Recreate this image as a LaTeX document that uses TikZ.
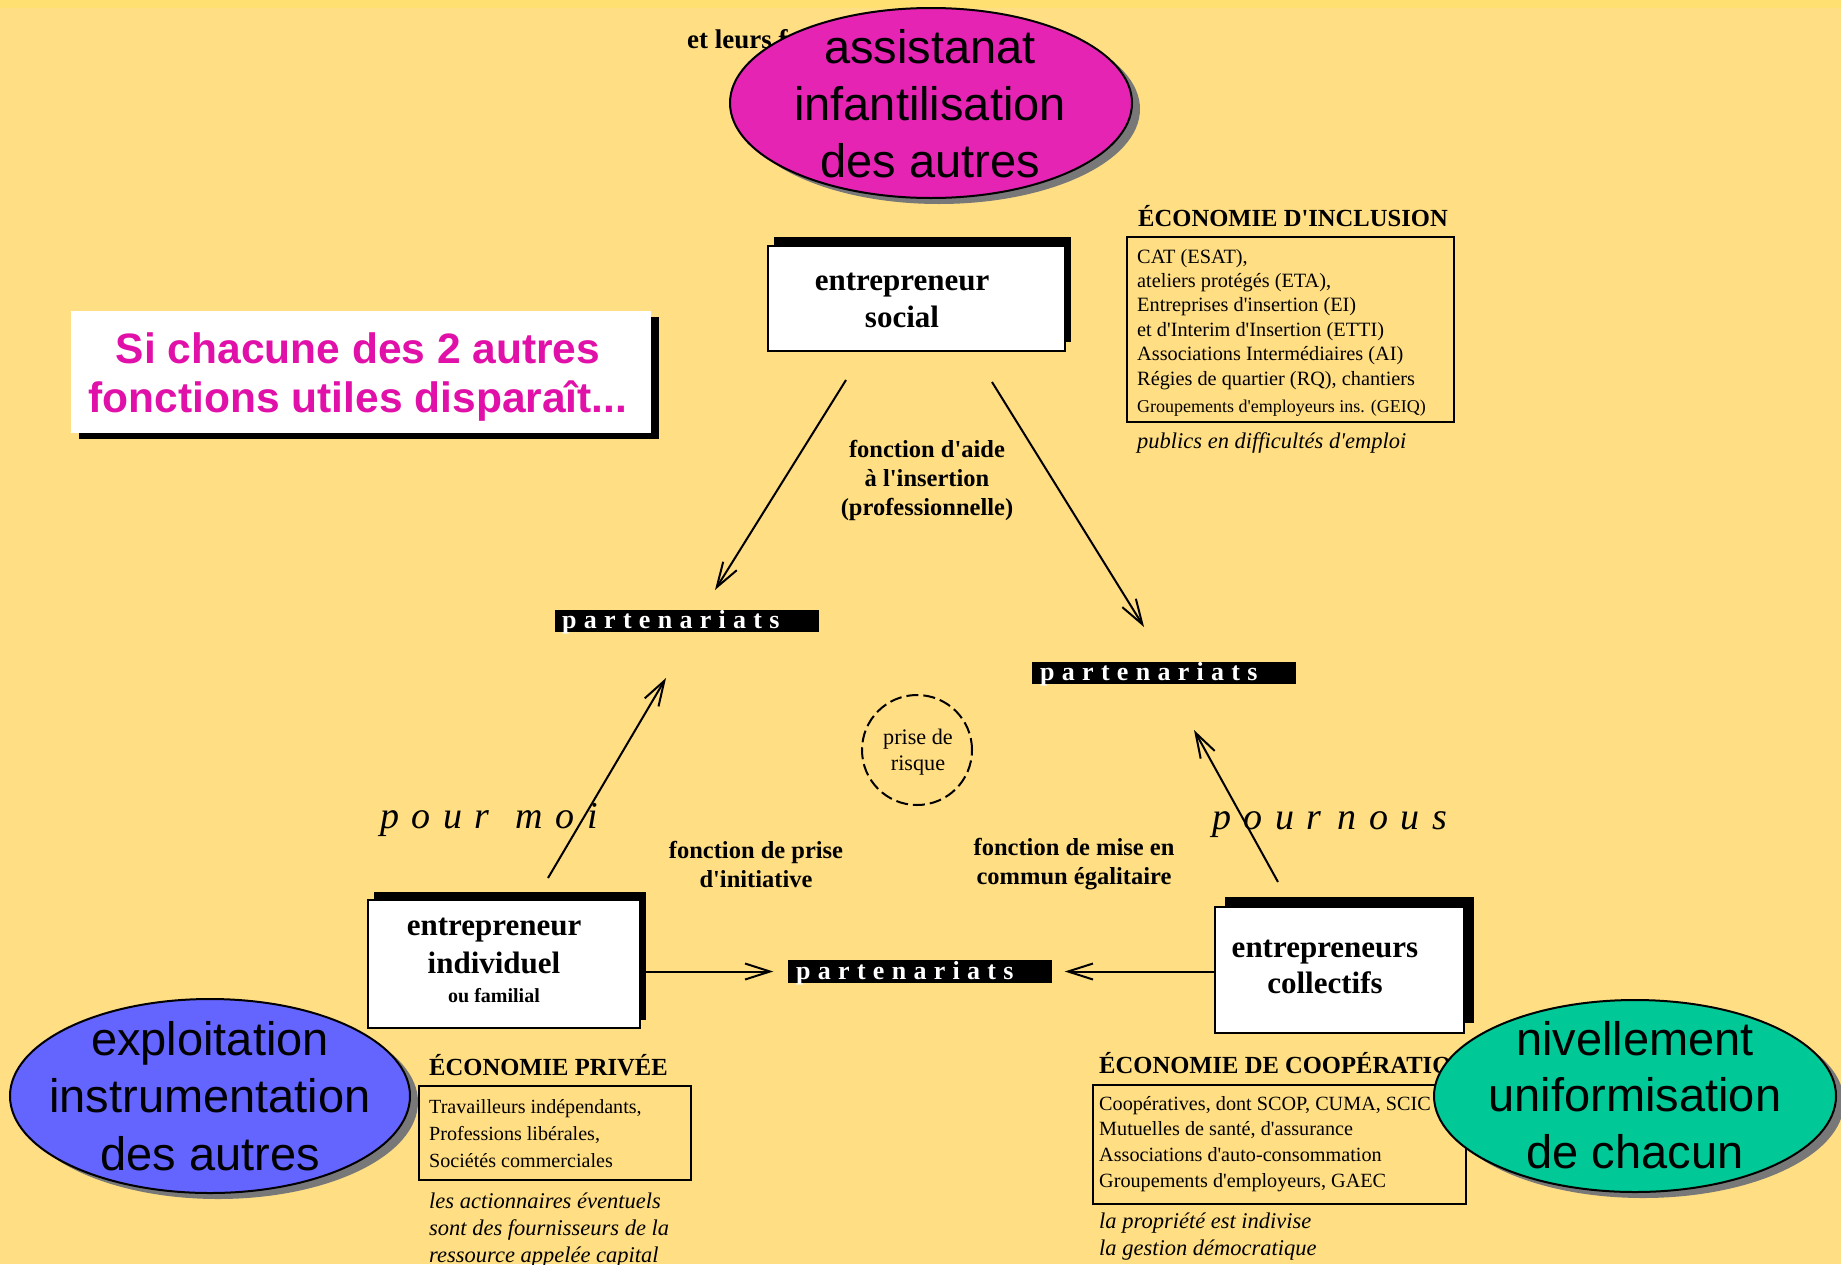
\documentclass[tikz,border=0pt]{standalone}
\usepackage{fontspec}
\setmainfont{Liberation Serif}
\setsansfont{Liberation Sans}
% plain families keep straight apostrophes (no TeX ligature mapping)
\newfontfamily\plainserif{Liberation Serif}
\newfontfamily\plainsans{Liberation Sans}
\newfontfamily\trackedserif[LetterSpace=33]{Liberation Serif}
\newfontfamily\partserif[LetterSpace=28]{Liberation Serif}
\usetikzlibrary{arrows.meta,shapes.geometric,shadows}

\definecolor{paper}{RGB}{255,222,132}
\definecolor{band}{RGB}{255,224,112}
\definecolor{pinkfill}{RGB}{230,36,180}
\definecolor{bluefill}{RGB}{100,100,255}
\definecolor{greenfill}{RGB}{0,200,150}
\definecolor{magtext}{RGB}{224,16,168}
\definecolor{shade}{RGB}{120,120,120}

\newcommand{\fsz}[2]{\fontsize{#1pt}{#2pt}\selectfont}
\newcommand{\stackc}[1]{\begin{tabular}[t]{@{}c@{}}#1\end{tabular}}
\newcommand{\stackl}[1]{\begin{tabular}[t]{@{}l@{}}#1\end{tabular}}

\begin{document}
\begin{tikzpicture}[x=1pt,y=-1pt,
  txt/.style={inner sep=0pt, anchor=base},
  txtl/.style={inner sep=0pt, anchor=base west},
  boxtitle/.style={txt, font=\plainserif\bfseries\fsz{31}{37}},
  fnlabel/.style={txt, font=\plainserif\bfseries\fsz{24.5}{29}},
  heading/.style={txtl, font=\plainserif\bfseries\fsz{24.6}{29}},
  note/.style={txtl, font=\plainserif\itshape\fsz{22.5}{27}},
  bigsans/.style={txt, font=\plainsans\fsz{47}{57}},
  tracked/.style={txtl, font=\trackedserif\itshape\fsz{38}{44}},
  actor/.style 2 args={draw=black, line width=2pt, fill=white, inner sep=0pt,
    general shadow={fill=black, shadow xshift=#1, shadow yshift=#2}},
  ecobox/.style={draw=black, line width=2pt, inner sep=0pt},
  blob/.style={ellipse, draw=black, line width=2pt, inner sep=0pt,
    general shadow={fill=shade, shadow xshift=8pt, shadow yshift=-6pt}},
  partbox/.style={fill=black, inner sep=0pt, minimum width=264pt, minimum height=22pt},
  parttext/.style={txtl, text=white, font=\partserif\bfseries\fsz{26}{30}},
  arr/.style={line width=2pt, -{Straight Barb[length=25pt,width=16pt]}}
]
\path[use as bounding box] (0,0) rectangle (1841,1264);
\fill[paper] (0,0) rectangle (1841,1264);
\fill[band] (0,0) rectangle (1841,8);

% ---- top: social entrepreneur and inclusion economy
\node[txtl, font=\plainserif\bfseries\fsz{27}{32}] (etleurs) at (687,48) {et leurs f};
\node[blob, fill=pinkfill, minimum width=402pt, minimum height=190pt] (assist) at (931,103) {};
\node[bigsans] (assisttxt) at (930,63) {\stackc{assistanat\\infantilisation\\des autres}};

\node[actor={6pt}{9pt}, minimum width=297pt, minimum height=105pt] (soc) at (916.5,298.5) {};
\node[boxtitle] (soctxt) at (902,290) {\stackc{entrepreneur\\social}};

\node[heading] (inclh) at (1138,226) {ÉCONOMIE D'INCLUSION};
\node[ecobox, minimum width=327pt, minimum height=185pt] (inclbox) at (1290.5,329.5) {};
\node[txtl, font=\plainserif\fsz{20.3}{24.4}] (incll) at (1137,263)
  {\stackl{CAT (ESAT),\\ateliers protégés (ETA),\\Entreprises d'insertion (EI)\\et d'Interim d'Insertion (ETTI)\\Associations Intermédiaires (AI)\\Régies de quartier (RQ), chantiers\\[2.6pt]{\fsz{18}{22}Groupements d'employeurs ins. (GEIQ)}}};
\node[note] (incln) at (1137,448) {publics en difficultés d'emploi};

% ---- headline box
\node[fill=white, inner sep=0pt, minimum width=580pt, minimum height=122pt,
  general shadow={fill=black, shadow xshift=8pt, shadow yshift=-6pt}] (si) at (361,372) {};
\node[txt, text=magtext, font=\plainsans\bfseries\fsz{42.5}{49}] (sitxt) at (358,363)
  {\stackc{Si chacune des 2 autres\\fonctions utiles disparaît...}};

% ---- function labels
\node[fnlabel] (aide) at (927,457) {\stackc{fonction d'aide\\à l'insertion\\(professionnelle)}};
\node[fnlabel] (initiative) at (756,858) {\stackc{fonction de prise\\d'initiative}};
\node[fnlabel] (commun) at (1074,855) {\stackc{fonction de mise en\\commun égalitaire}};

% ---- partnerships
\node[partbox] (p1) at (686.5,621) {};
\node[parttext] (p1t) at (562,628) {partenariats};
\node[partbox] (p2) at (1163.5,673) {};
\node[parttext] (p2t) at (1040,680) {partenariats};
\node[partbox, minimum height=23pt] (p3) at (919.5,971.5) {};
\node[parttext] (p3t) at (796,979) {partenariats};

% ---- risk taking
\node[circle, draw=black, line width=2pt, dash pattern=on 12pt off 5pt,
  minimum size=110pt, inner sep=0pt] (risk) at (917,750) {};
\node[txt, font=\plainserif\fsz{22.2}{26}] (risktxt) at (918,744) {\stackc{prise de\\risque}};

% ---- for me / for us
\node[tracked] (pmoi) at (380,828) {pour\hspace{26pt}moi};
\node[tracked] (pnous) at (1212,829) {pour\hspace{16pt}nous};

% ---- individual entrepreneur and private economy
\node[actor={6pt}{8.5pt}, minimum width=272pt, minimum height=128pt] (ind) at (504,964) {};
\node[txt, font=\plainserif\bfseries\fsz{31}{38}] (indtxt) at (494,935)
  {\stackc{entrepreneur\\individuel\\[-9pt]{\fsz{20}{24}ou familial}}};

\node[heading] (privh) at (429,1075) {ÉCONOMIE PRIVÉE};
\node[ecobox, minimum width=272pt, minimum height=94pt] (privbox) at (555,1133) {};
\node[txtl, font=\plainserif\fsz{20.1}{27}] (privl) at (429,1113)
  {\stackl{Travailleurs indépendants,\\Professions libérales,\\Sociétés commerciales}};
\node[note] (privn) at (429,1208)
  {\stackl{les actionnaires éventuels\\sont des fournisseurs de la\\ressource appelée capital}};

% ---- collective entrepreneurs and cooperative economy
\node[actor={10pt}{10pt}, minimum width=249pt, minimum height=126pt] (col) at (1339.5,970) {};
\node[txt, font=\plainserif\bfseries\fsz{31}{36}] (coltxt) at (1325,957) {\stackc{entrepreneurs\\collectifs}};

\node[heading] (cooph) at (1099,1073) {ÉCONOMIE DE COOPÉRATION};
\node[ecobox, minimum width=373pt, minimum height=119pt] (coopbox) at (1279.5,1144.5) {};
\node[txtl, font=\plainserif\fsz{20.2}{25.7}] (coopl) at (1099,1110)
  {\stackl{Coopératives, dont SCOP, CUMA, SCIC\\Mutuelles de santé, d'assurance\\Associations d'auto-consommation\\Groupements d'employeurs, GAEC}};
\node[note] (coopn) at (1099,1228) {\stackl{la propriété est indivise\\la gestion démocratique}};

% ---- connectors
\coordinate (a1s) at (846,380);  \coordinate (a1e) at (715,590);
\coordinate (a2s) at (992,382);  \coordinate (a2e) at (1144,627);
\coordinate (a3s) at (548,878);  \coordinate (a3e) at (666,678);
\coordinate (a4s) at (1278,882); \coordinate (a4e) at (1194,730);
\draw[arr] (a1s) -- (a1e);
\draw[arr] (a2s) -- (a2e);
\draw[arr] (a3s) -- (a3e);
\draw[arr] (a4s) -- (a4e);
\draw[arr, shorten >=14pt] (ind.east |- p3) -- (p3.west);
\draw[arr, shorten >=13pt] (col.west |- p3) -- (p3.east);

% ---- lower side blobs
\node[blob, fill=bluefill, minimum width=400pt, minimum height=194pt] (expl) at (210,1096) {};
\node[txt, font=\plainsans\fsz{47}{57.5}] (expltxt) at (210,1055)
  {\stackc{exploitation\\instrumentation\\des autres}};
\node[blob, fill=greenfill, minimum width=402pt, minimum height=192pt] (nivel) at (1635,1096) {};
\node[txt, font=\plainsans\fsz{47}{56.5}] (niveltxt) at (1635,1055)
  {\stackc{nivellement\\uniformisation\\de chacun}};
\end{tikzpicture}
\end{document}
